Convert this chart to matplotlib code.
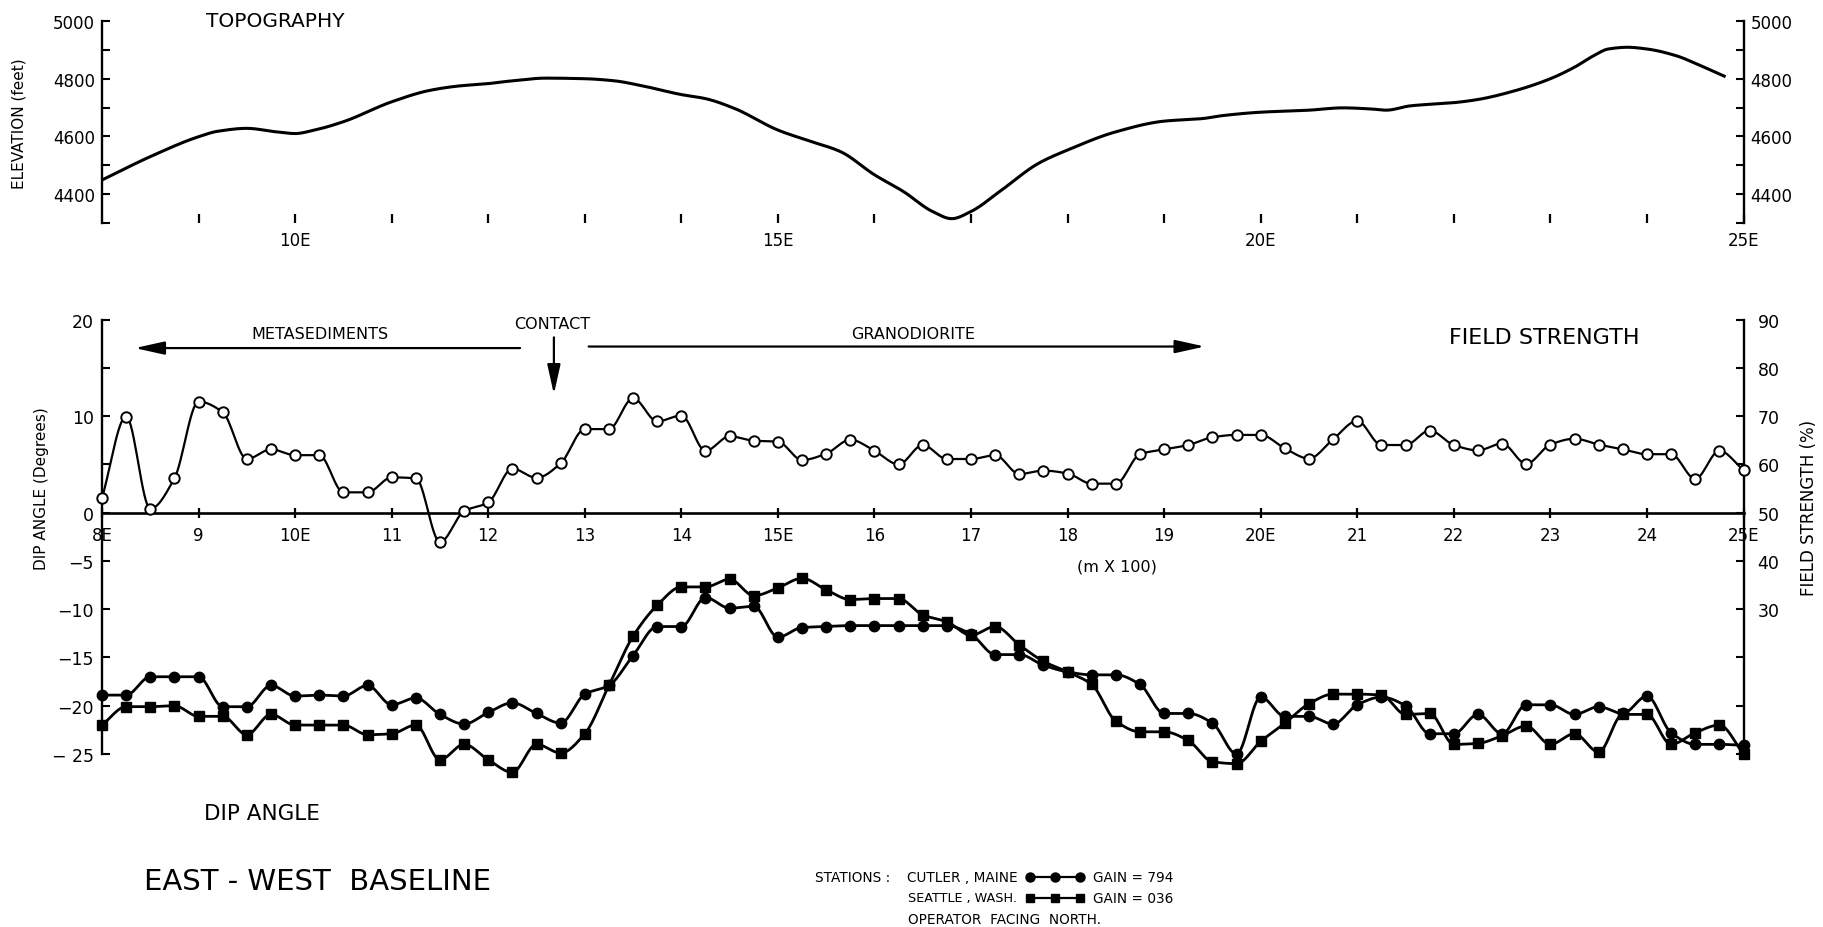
import numpy as np
import matplotlib
matplotlib.use("Agg")
import matplotlib.pyplot as plt
from matplotlib.lines import Line2D

plt.rcParams['font.family'] = ['DejaVu Sans']

# ---------------- data ----------------
# Topography profile (station in 100 m units, elevation in feet)
topo_x = [8.0, 8.5, 9.0, 9.2, 9.5, 9.8, 10.0, 10.2, 10.5, 11.0, 11.4, 11.7, 12.0,
          12.2, 12.6, 13.0, 13.3, 13.6, 14.0, 14.25, 14.55, 15.0, 15.3, 15.65, 16.0,
          16.3, 16.6, 16.8, 17.0, 17.3, 17.7, 18.0, 18.5, 19.0, 19.4, 19.6, 20.0,
          20.5, 20.85, 21.15, 21.3, 21.55, 22.0, 22.25, 22.65, 23.0, 23.25, 23.45,
          23.6, 23.8, 24.0, 24.3, 24.55, 24.8]
topo_elev = [4449, 4530, 4599, 4618, 4628, 4616, 4610, 4622, 4651, 4720, 4760, 4775, 4783,
             4791, 4802, 4800, 4793, 4775, 4745, 4731, 4697, 4622, 4587, 4547, 4467,
             4409, 4340, 4315, 4340, 4410, 4507, 4553, 4616, 4653, 4662, 4672, 4684,
             4691, 4699, 4695, 4691, 4706, 4717, 4728, 4760, 4800, 4840, 4880,
             4903, 4909, 4903, 4880, 4846, 4809]

# Stations every 25 m
station = [8.0, 8.25, 8.5, 8.75, 9.0, 9.25, 9.5, 9.75, 10.0, 10.25, 10.5, 10.75,
           11.0, 11.25, 11.5, 11.75, 12.0, 12.25, 12.5, 12.75, 13.0, 13.25, 13.5, 13.75,
           14.0, 14.25, 14.5, 14.75, 15.0, 15.25, 15.5, 15.75, 16.0, 16.25, 16.5, 16.75,
           17.0, 17.25, 17.5, 17.75, 18.0, 18.25, 18.5, 18.75, 19.0, 19.25, 19.5, 19.75,
           20.0, 20.25, 20.5, 20.75, 21.0, 21.25, 21.5, 21.75, 22.0, 22.25, 22.5, 22.75,
           23.0, 23.25, 23.5, 23.75, 24.0, 24.25, 24.5, 24.75, 25.0]

# Field strength (%)
field_strength = [53.0, 69.9, 50.8, 57.1, 73.0, 70.8, 61.1, 63.1, 61.9, 61.9, 54.2, 54.2,
                  57.3, 57.1, 43.9, 50.3, 52.1, 59.1, 57.2, 60.2, 67.3, 67.3, 73.7, 68.9,
                  70.1, 62.8, 65.8, 64.9, 64.7, 60.9, 62.2, 65.1, 62.8, 60.0, 64.0, 61.1,
                  61.1, 61.9, 58.0, 58.7, 58.1, 56.0, 56.0, 62.1, 63.1, 64.0, 65.6, 66.1,
                  66.1, 63.3, 61.2, 65.2, 69.0, 64.0, 64.0, 67.0, 64.0, 62.9, 64.3, 60.1,
                  64.1, 65.3, 64.1, 63.1, 62.1, 62.1, 57.0, 62.8, 58.8]

# Dip angle (degrees) - Cutler, Maine
dip_cutler = [-18.9, -18.9, -17.0, -17.0, -17.0, -20.1, -20.1, -17.9, -19.0, -18.9, -19.0, -17.9,
              -19.9, -19.2, -20.9, -21.9, -20.7, -19.7, -20.8, -21.8, -18.8, -17.9, -14.8, -11.8,
              -11.8, -8.8, -9.9, -9.7, -12.9, -11.9, -11.8, -11.7, -11.7, -11.7, -11.7, -11.7,
              -12.6, -14.7, -14.7, -15.8, -16.5, -16.8, -16.8, -17.8, -20.8, -20.8, -21.8, -25.0,
              -19.1, -21.1, -21.1, -21.9, -19.9, -19.1, -20.0, -22.9, -22.9, -20.9, -22.9, -19.9,
              -19.9, -20.9, -20.1, -20.8, -19.0, -22.8, -24.0, -24.0, -24.1]

# Dip angle (degrees) - Seattle, Wash.
dip_seattle = [-22.0, -20.1, -20.1, -20.0, -21.1, -21.1, -23.0, -20.9, -22.0, -22.0, -22.0, -23.0,
               -22.9, -22.0, -25.6, -24.0, -25.6, -26.9, -24.0, -24.9, -22.9, -17.9, -12.8, -9.6,
               -7.7, -7.7, -6.9, -8.6, -7.8, -6.8, -8.0, -9.0, -8.9, -8.9, -10.6, -11.3,
               -12.7, -11.8, -13.7, -15.4, -16.5, -17.8, -21.6, -22.7, -22.7, -23.6, -25.8, -26.0,
               -23.7, -21.8, -19.8, -18.8, -18.8, -18.9, -20.9, -20.8, -24.0, -23.9, -23.1, -22.1,
               -24.0, -22.9, -24.8, -20.9, -20.9, -24.0, -22.8, -22.0, -25.0]

top_xticks = [9, 10, 11, 12, 13, 14, 15, 16, 17, 18, 19, 20, 21, 22, 23, 24, 25]
top_xlabels = ['', '10E', '', '', '', '', '15E', '', '', '', '', '20E', '', '', '', '', '25E']
elev_ticks = [4300, 4400, 4500, 4600, 4700, 4800, 4900, 5000]
elev_labels = ['', '4400', '', '4600', '', '4800', '', '5000']

main_xticks = [8, 9, 10, 11, 12, 13, 14, 15, 16, 17, 18, 19, 20, 21, 22, 23, 24, 25]
main_xlabels = ['8E', '9', '10E', '11', '12', '13', '14', '15E', '16', '17', '18', '19',
                '20E', '21', '22', '23', '24', '25E']
dip_ticks = [-25, -20, -15, -10, -5, 0, 5, 10, 15, 20]
dip_labels = ['\u2212 25', '\u221220', '\u221215', '\u221210', '\u22125', '0', '', '10', '', '20']
fs_ticks = [0, 10, 20, 30, 40, 50, 60, 70, 80, 90]
fs_labels = ['', '', '', '30', '40', '50', '60', '70', '80', '90']


def smooth(x, y, n=16):
    """Monotone cubic (PCHIP-style) drawing path through the given points."""
    x = np.asarray(x, float)
    y = np.asarray(y, float)
    h = np.diff(x)
    delta = np.diff(y) / h
    d = np.zeros_like(y)
    for k in range(1, len(x) - 1):
        if delta[k - 1] * delta[k] > 0:
            w1 = 2 * h[k] + h[k - 1]
            w2 = h[k] + 2 * h[k - 1]
            d[k] = (w1 + w2) / (w1 / delta[k - 1] + w2 / delta[k])
    d[0] = delta[0]
    d[-1] = delta[-1]
    xs, ys = [], []
    for k in range(len(x) - 1):
        t = np.linspace(0, 1, n, endpoint=(k == len(x) - 2))
        h00 = 2 * t**3 - 3 * t**2 + 1
        h10 = t**3 - 2 * t**2 + t
        h01 = -2 * t**3 + 3 * t**2
        h11 = t**3 - t**2
        xs.append(x[k] + t * h[k])
        ys.append(h00 * y[k] + h10 * h[k] * d[k] + h01 * y[k + 1] + h11 * h[k] * d[k + 1])
    return np.concatenate(xs), np.concatenate(ys)


# ---------------- figure ----------------
W_PX, H_PX = 1823, 928
fig = plt.figure(figsize=(W_PX / 100, H_PX / 100), dpi=100)

x0 = 102 / W_PX
w = (1743.5 - 102) / W_PX
ax_top = fig.add_axes([x0, 1 - 224 / H_PX, w, (224 - 22) / H_PX])
ax = fig.add_axes([x0, 1 - 755 / H_PX, w, (755 - 320.5) / H_PX])

# ---- topography panel ----
tx, ty = smooth(topo_x, topo_elev, 20)
ax_top.plot(tx, ty, color='k', lw=2.2)
ax_top.set_xlim(8, 25)
ax_top.set_ylim(4300, 5000)
for s in ['top', 'bottom']:
    ax_top.spines[s].set_visible(False)
for s in ['left', 'right']:
    ax_top.spines[s].set_linewidth(1.7)
ax_top.set_yticks(elev_ticks)
ax_top.set_yticklabels(elev_labels)
ax_top.tick_params(axis='y', direction='in', length=6, width=1.5, left=True, right=True,
                   labelleft=True, labelright=True, labelsize=12, pad=5)
ax_top.set_xticks(top_xticks)
ax_top.set_xticklabels(top_xlabels)
ax_top.tick_params(axis='x', direction='in', length=6.5, width=1.6, labelsize=12, pad=6)
ax_top.patch.set_visible(False)

# ---- dip angle / field strength panel ----
ax.set_xlim(8, 25)
ax.set_ylim(-25, 20)
ax.spines['top'].set_visible(False)
ax.spines['right'].set_visible(False)
ax.spines['bottom'].set_position(('data', 0))
ax.spines['bottom'].set_linewidth(1.9)
ax.spines['left'].set_linewidth(1.7)
ax.set_xticks(main_xticks)
ax.set_xticklabels(main_xlabels)
ax.tick_params(axis='x', direction='inout', length=7.5, width=1.6, labelsize=12, pad=6)
ax.set_yticks(dip_ticks)
ax.set_yticklabels(dip_labels)
ax.tick_params(axis='y', direction='in', length=6, width=1.5, labelsize=12.5, pad=6)
ax.patch.set_visible(False)

twin = ax.twinx()
twin.set_ylim(0, 90)
for s in ['top', 'bottom', 'left']:
    twin.spines[s].set_visible(False)
twin.spines['right'].set_linewidth(1.7)
twin.set_yticks(fs_ticks)
twin.set_yticklabels(fs_labels)
twin.tick_params(axis='y', direction='in', length=6, width=1.5, labelsize=12.5, pad=10)

# field strength (open circles)
fx, fy = smooth(station, field_strength, 16)
twin.plot(fx, fy, color='k', lw=1.6, clip_on=False, zorder=2)
twin.plot(station, field_strength, linestyle='none', marker='o', ms=7.5,
          mfc='white', mec='k', mew=1.4, clip_on=False, zorder=3)

# dip angles
cx, cy = smooth(station, dip_cutler, 16)
ax.plot(cx, cy, color='k', lw=2.0, clip_on=False, zorder=2)
ax.plot(station, dip_cutler, linestyle='none', marker='o', ms=7.5, color='k',
        clip_on=False, zorder=3)
sx, sy = smooth(station, dip_seattle, 16)
ax.plot(sx, sy, color='k', lw=2.0, clip_on=False, zorder=2)
ax.plot(station, dip_seattle, linestyle='none', marker='s', ms=6.8, color='k',
        clip_on=False, zorder=3)

# annotations inside the panel
ax.text(10.26, 18.5, 'METASEDIMENTS', ha='center', va='center', fontsize=11.5)
ax.text(12.66, 19.6, 'CONTACT', ha='center', va='center', fontsize=11.5)
ax.text(16.40, 18.57, 'GRANODIORITE', ha='center', va='center', fontsize=11.5)
ax.text(22.94, 18.15, 'FIELD STRENGTH', ha='center', va='center', fontsize=16)
ax.text(18.51, -5.58, '(m X 100)', ha='center', va='center', fontsize=11.5)
arrow_kw = dict(arrowstyle='-|>,head_length=0.9,head_width=0.2', lw=1.6, color='k',
                shrinkA=0, shrinkB=0, mutation_scale=20)
ax.annotate('', xy=(8.34, 17.04), xytext=(12.33, 17.04), arrowprops=arrow_kw)
ax.annotate('', xy=(19.42, 17.2), xytext=(13.04, 17.2), arrowprops=arrow_kw)
ax.annotate('', xy=(12.68, 12.26), xytext=(12.68, 18.15), arrowprops=arrow_kw)

# ---- figure-level text ----
fig.text(275 / W_PX, 1 - 21.7 / H_PX, 'TOPOGRAPHY', ha='center', va='center', fontsize=14.5)
fig.text(19 / W_PX, 1 - 123.5 / H_PX, 'ELEVATION (feet)', ha='center', va='center',
         rotation=90, fontsize=11)
fig.text(42 / W_PX, 1 - 488.6 / H_PX, 'DIP ANGLE (Degrees)', ha='center', va='center',
         rotation=90, fontsize=11)
fig.text(1809 / W_PX, 1 - 507.5 / H_PX, 'FIELD STRENGTH (%)', ha='center', va='center',
         rotation=90, fontsize=12)
fig.text(262 / W_PX, 1 - 814 / H_PX, 'DIP ANGLE', ha='center', va='center', fontsize=15.5)
fig.text(317.6 / W_PX, 1 - 882.5 / H_PX, 'EAST - WEST  BASELINE', ha='center', va='center',
         fontsize=21)

# legend block
ly1, ly2, ly3 = 1 - 878 / H_PX, 1 - 899 / H_PX, 1 - 920 / H_PX
fig.text(815 / W_PX, ly1, 'STATIONS :', ha='left', va='center', fontsize=9.8)
fig.text(907 / W_PX, ly1, 'CUTLER , MAINE', ha='left', va='center', fontsize=9.8)
fig.text(1093 / W_PX, ly1, 'GAIN = 794', ha='left', va='center', fontsize=9.8)
fig.text(908 / W_PX, ly2, 'SEATTLE , WASH.', ha='left', va='center', fontsize=9.2)
fig.text(1093 / W_PX, ly2, 'GAIN = 036', ha='left', va='center', fontsize=9.8)
fig.text(908 / W_PX, ly3, 'OPERATOR  FACING  NORTH.', ha='left', va='center', fontsize=9.8)
lx = [1030 / W_PX, 1055 / W_PX, 1080 / W_PX]
fig.add_artist(Line2D(lx, [ly1] * 3, transform=fig.transFigure, color='k', lw=1.6,
                      marker='o', ms=6.5))
fig.add_artist(Line2D(lx, [ly2] * 3, transform=fig.transFigure, color='k', lw=1.6,
                      marker='s', ms=6))

fig.savefig('out.png', dpi=100)
